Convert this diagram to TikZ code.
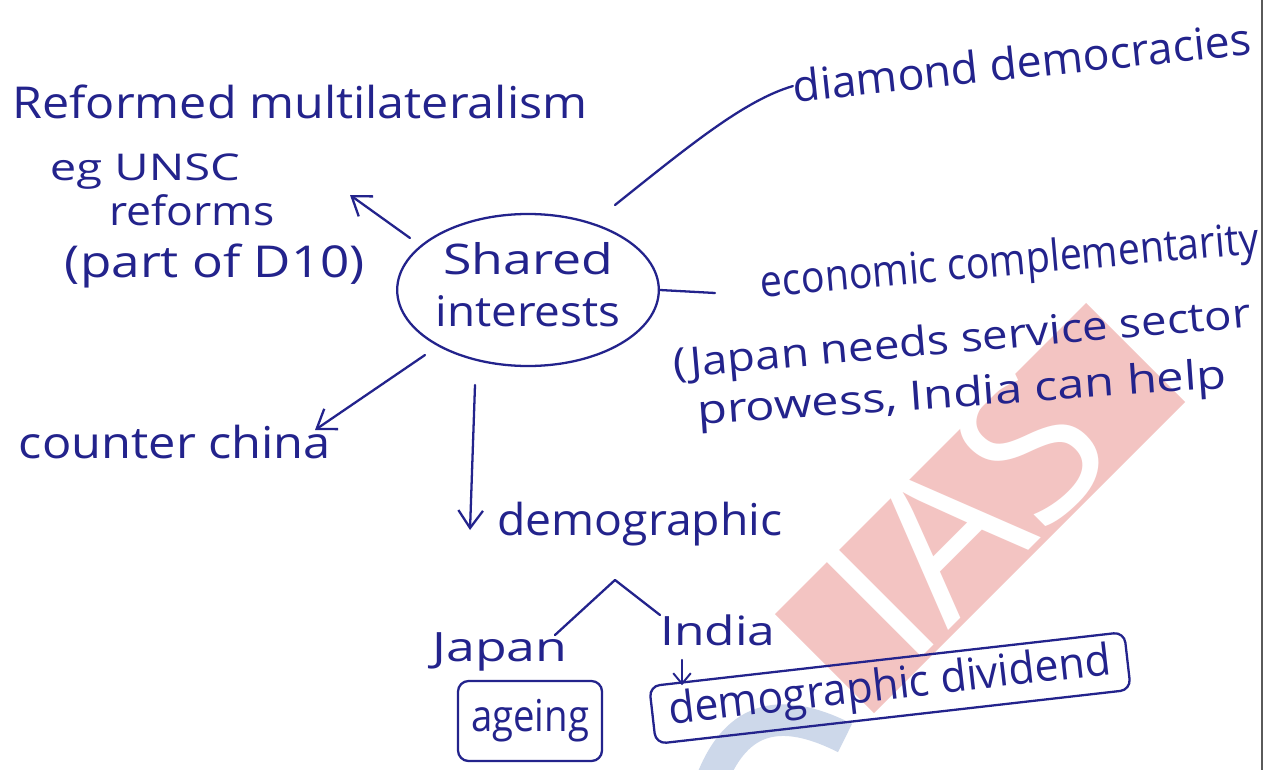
\documentclass[tikz,border=0pt]{standalone}
\usepackage{fontspec}
\setmainfont{Open Sans}
\usetikzlibrary{arrows.meta,shapes.geometric}
\newlength\px
\setlength\px{0.02cm}
\definecolor{ink}{RGB}{35,35,140}
\definecolor{wmred}{RGB}{243,196,194}
\definecolor{wmblue}{RGB}{205,216,234}
\definecolor{edge}{RGB}{90,90,90}
\newcommand{\fitw}[2]{\resizebox{#1\px}{\height}{#2}}
\begin{document}
\begin{tikzpicture}[x=0.02cm,y=-0.02cm,
  txt/.style={text=ink,inner sep=0pt,anchor=center,font=\fontsize{25}{28}\selectfont},
  conn/.style={draw=ink,line width=1.3pt,line cap=round,line join=round},
  arr/.style={conn,-{Straight Barb[length=10pt,width=14pt,line width=1.3pt]}},
  boxed/.style={draw=ink,line width=1.3pt,rounded corners=6pt,text=ink,inner sep=0pt,font=\fontsize{25}{28}\selectfont}]
\useasboundingbox (0,0) rectangle (1280,770);
\fill[white] (0,0) rectangle (1280,770);
% watermark
\node[fill=wmred,rotate=45,minimum width=440\px,minimum height=140\px,inner sep=0pt] (wmband) at (980,508) {};
\node[rotate=45,text=white,inner sep=0pt,font=\fontsize{118}{118}\selectfont] (wmtext) at (962,512) {IAS};
\draw[wmblue,line width=18pt] (708,790) .. controls (730,725) and (770,700) .. (845,738);
% page edge
\draw[edge,line width=0.6pt] (1262,0) -- (1262,770);
% nodes
\node[txt] (ref) at (300,102) {\fitw{575}{Reformed multilateralism}};
\node[txt,font=\fontsize{21}{24}\selectfont] (eg) at (145,172) {\fitw{190}{eg UNSC}};
\node[txt,font=\fontsize{23}{26}\selectfont] (refm) at (192,210) {\fitw{165}{reforms}};
\node[txt] (part) at (215,266) {\fitw{300}{(part of D10)}};
\node[draw=ink,line width=1.3pt,ellipse,minimum width=236\px,minimum height=152\px,inner sep=0pt,text=ink,font=\fontsize{24}{30}\selectfont] (shared) at (528,290)
  {\begin{tabular}{@{}c@{}}\fitw{170}{Shared}\\\fitw{185}{interests}\end{tabular}};
\node[txt,rotate=6] (diam) at (1022,62) {\fitw{460}{diamond democracies}};
\node[txt,rotate=5] (econ) at (1010,264) {\fitw{500}{economic complementarity}};
\node[txt,rotate=5,font=\fontsize{23}{26}\selectfont] (jneeds) at (962,342) {\fitw{580}{(Japan needs service sector}};
\node[txt,rotate=4,font=\fontsize{23}{26}\selectfont] (prow) at (962,396) {\fitw{530}{prowess, India can help}};
\node[txt] (counter) at (175,442) {\fitw{312}{counter china}};
\node[txt] (demog) at (640,524) {\fitw{285}{demographic}};
\node[txt,font=\fontsize{23}{26}\selectfont] (japan) at (500,652) {\fitw{135}{Japan}};
\node[txt,font=\fontsize{23}{26}\selectfont] (india) at (718,630) {\fitw{115}{India}};
\node[boxed,minimum width=144\px,minimum height=80\px] (ageing) at (530,721) {\fitw{118}{ageing}};
\node[boxed,rotate=6.5,minimum width=478\px,minimum height=58\px] (divid) at (890,688) {\fitw{445}{demographic dividend}};
% connector end points
\coordinate (sref) at (410,238);
\coordinate (aref) at (350,195);
\coordinate (sdiam) at (615,205);
\coordinate (econend) at (715,293);
\coordinate (scount) at (425,355);
\coordinate (acount) at (315,430);
\coordinate (sdem) at (475,385);
\coordinate (adem) at (470,530);
\coordinate (bj) at (555,635);
\coordinate (apex) at (615,580);
\coordinate (bi) at (660,615);
\coordinate (si) at (682,660);
% connectors
\draw[arr] (sref) -- (aref);
\draw[conn] (sdiam) .. controls (690,145) and (745,100) .. (diam.west);
\draw[conn] (shared.east) -- (econend);
\draw[arr] (scount) -- (acount);
\draw[arr] (sdem) -- (adem);
\draw[conn] (bj) -- (apex) -- (bi);
\draw[conn,-{Straight Barb[length=6pt,width=10pt,line width=1.1pt]}] (si) -- (divid.north west -| si);
\end{tikzpicture}
\end{document}
